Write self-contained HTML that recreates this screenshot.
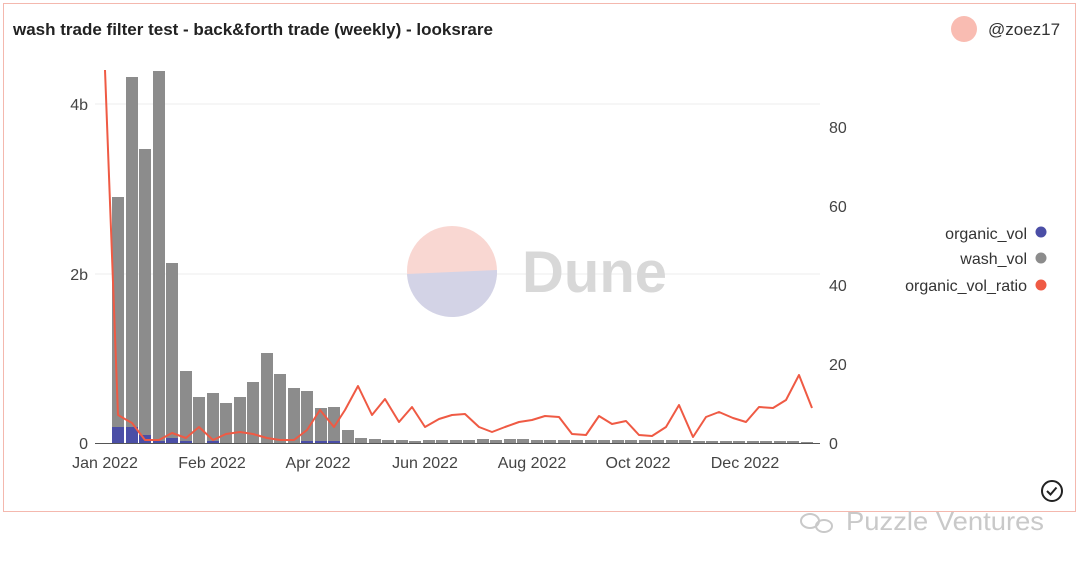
<!DOCTYPE html>
<html><head><meta charset="utf-8"><style>
body{margin:0;background:#fff;width:1080px;height:566px;overflow:hidden;font-family:"Liberation Sans",sans-serif}
</style></head><body>
<svg width="1080" height="566" xmlns="http://www.w3.org/2000/svg" font-family="Liberation Sans, sans-serif">
<rect x="3.5" y="3.5" width="1072" height="508" fill="#fff" stroke="#f4b8ae"/>
<text x="13" y="35" font-size="17" font-weight="bold" fill="#222">wash trade filter test - back&amp;forth trade (weekly) - looksrare</text>
<circle cx="964" cy="29" r="13" fill="#f9bcb2"/>
<text x="988" y="35" font-size="17" fill="#333">@zoez17</text>
<g stroke="#eee"><line x1="95" y1="104" x2="820" y2="104"/><line x1="95" y1="274" x2="820" y2="274"/></g>
<line x1="95" y1="443.5" x2="820" y2="443.5" stroke="#555"/>
<g font-size="16" fill="#444" text-anchor="end"><text x="88" y="110">4b</text><text x="88" y="280">2b</text><text x="88" y="449">0</text></g>
<g font-size="16" fill="#444"><text x="829" y="133">80</text><text x="829" y="212">60</text><text x="829" y="291">40</text><text x="829" y="370">20</text><text x="829" y="449">0</text></g>
<g font-size="16" fill="#444" text-anchor="middle"><text x="105" y="468">Jan 2022</text><text x="212" y="468">Feb 2022</text><text x="318" y="468">Apr 2022</text><text x="425" y="468">Jun 2022</text><text x="532" y="468">Aug 2022</text><text x="638" y="468">Oct 2022</text><text x="745" y="468">Dec 2022</text></g>
<circle cx="452" cy="271" r="45" fill="#f8d3cd" opacity="0.9"/>
<path d="M407,274 A45,45 0 0 0 497,270 Z" fill="#d3d3e6"/>
<text x="522" y="292" font-size="58" font-weight="bold" fill="#d8d8d8">Dune</text>
<g fill="#8c8c8c">
<rect x="112" y="197" width="12" height="246"/><rect x="126" y="77" width="12" height="366"/><rect x="139" y="149" width="12" height="294"/><rect x="153" y="71" width="12" height="372"/><rect x="166" y="263" width="12" height="180"/><rect x="180" y="371" width="12" height="72"/><rect x="193" y="397" width="12" height="46"/><rect x="207" y="393" width="12" height="50"/><rect x="220" y="403" width="12" height="40"/><rect x="234" y="397" width="12" height="46"/><rect x="247" y="382" width="12" height="61"/><rect x="261" y="353" width="12" height="90"/><rect x="274" y="374" width="12" height="69"/><rect x="288" y="388" width="12" height="55"/><rect x="301" y="391" width="12" height="52"/><rect x="315" y="408" width="12" height="35"/><rect x="328" y="407" width="12" height="36"/><rect x="342" y="430" width="12" height="13"/><rect x="355" y="438" width="12" height="5"/>
<rect x="369" y="439" width="12" height="4"/><rect x="382" y="440" width="12" height="3"/><rect x="396" y="440" width="12" height="3"/><rect x="409" y="441" width="12" height="2"/><rect x="423" y="440" width="12" height="3"/><rect x="436" y="440" width="12" height="3"/><rect x="450" y="440" width="12" height="3"/><rect x="463" y="440" width="12" height="3"/><rect x="477" y="439" width="12" height="4"/><rect x="490" y="440" width="12" height="3"/><rect x="504" y="439" width="12" height="4"/><rect x="517" y="439" width="12" height="4"/><rect x="531" y="440" width="12" height="3"/><rect x="544" y="440" width="12" height="3"/><rect x="558" y="440" width="12" height="3"/><rect x="571" y="440" width="12" height="3"/><rect x="585" y="440" width="12" height="3"/><rect x="598" y="440" width="12" height="3"/><rect x="612" y="440" width="12" height="3"/><rect x="625" y="440" width="12" height="3"/><rect x="639" y="440" width="12" height="3"/><rect x="652" y="440" width="12" height="3"/><rect x="666" y="440" width="12" height="3"/><rect x="679" y="440" width="12" height="3"/><rect x="693" y="441" width="12" height="2"/><rect x="706" y="441" width="12" height="2"/><rect x="720" y="441" width="12" height="2"/><rect x="733" y="441" width="12" height="2"/><rect x="747" y="441" width="12" height="2"/><rect x="760" y="441" width="12" height="2"/><rect x="774" y="441" width="12" height="2"/><rect x="787" y="441" width="12" height="2"/><rect x="801" y="442" width="12" height="1"/>
</g>
<g fill="#4b4ea6">
<rect x="112" y="427" width="12" height="16"/><rect x="126" y="427" width="12" height="16"/><rect x="139" y="435" width="12" height="8"/><rect x="153" y="441" width="12" height="2"/><rect x="166" y="438" width="12" height="5"/><rect x="180" y="441" width="12" height="2"/><rect x="207" y="441" width="12" height="2"/><rect x="301" y="441" width="12" height="2"/><rect x="315" y="441" width="12" height="2"/><rect x="328" y="441" width="12" height="2"/>
</g>
<polyline fill="none" stroke="#ef5a44" stroke-width="2" stroke-linejoin="round" points="105,70 118,415 132,423 145,440 159,440 172,433 186,438 199,427 213,440 226,434 240,432 253,434 267,438 280,440 294,440 307,430 320,410 334,427 345,410 358,386 372,415 385,399 399,422 412,407 425,427 439,419 452,415 465,414 479,427 492,432 505,427 519,422 532,420 545,416 559,417 572,434 586,435 599,416 612,424 626,421 639,435 652,436 666,427 679,405 693,437 706,417 719,412 733,418 746,422 759,407 773,408 786,400 799,375 812,408"/>
<g font-size="16" fill="#333" text-anchor="end"><text x="1027" y="239">organic_vol</text><text x="1027" y="264">wash_vol</text><text x="1027" y="291">organic_vol_ratio</text></g>
<circle cx="1041" cy="232" r="5.5" fill="#4b4ea6"/><circle cx="1041" cy="258" r="5.5" fill="#8c8c8c"/><circle cx="1041" cy="285" r="5.5" fill="#ef5a44"/>
<circle cx="1052" cy="491" r="10" fill="none" stroke="#222" stroke-width="2"/>
<path d="M1047,491 l3.5,3.5 l6,-7" fill="none" stroke="#222" stroke-width="2"/>
<ellipse cx="810" cy="521" rx="9" ry="7" fill="none" stroke="#c9c9c9" stroke-width="2"/>
<ellipse cx="824" cy="526" rx="8" ry="6" fill="none" stroke="#c9c9c9" stroke-width="2"/>
<text x="846" y="530" font-size="26" fill="#c9c9c9" textLength="198" lengthAdjust="spacingAndGlyphs">Puzzle Ventures</text>
</svg>
</body></html>
